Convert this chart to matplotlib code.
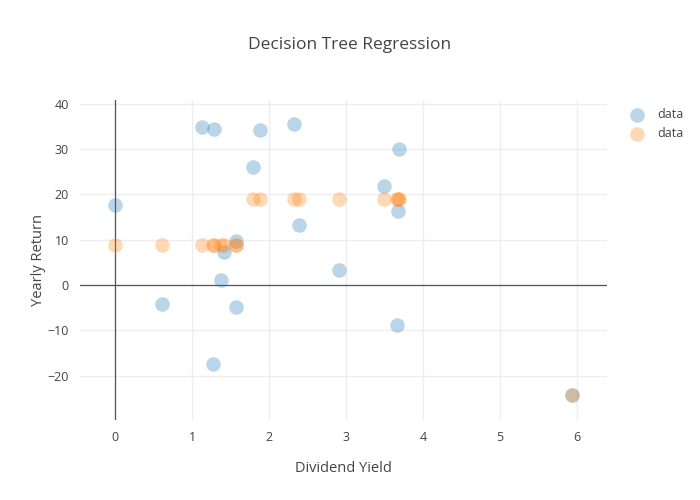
import numpy as np
import matplotlib.pyplot as plt

plt.rcParams['font.family'] = ['Open Sans', 'DejaVu Sans']

# dividend yield and yearly return
dividend_yield = [0.0, 0.606, 1.126, 1.28, 1.277, 1.38, 1.42, 1.567, 1.575,
                  1.79, 1.88, 2.32, 2.39, 2.91, 3.49, 3.66, 3.67, 3.69, 5.93]
yearly_return = [17.6, -4.2, 34.9, 34.3, -17.5, 1.0, 7.35, -4.9, 9.8,
                 26.0, 34.1, 35.5, 13.2, 3.3, 21.9, -8.8, 16.3, 29.9, -24.3]
# tree predictions at the same x values
predicted = [8.72, 8.72, 8.72, 8.72, 8.72, 8.72, 8.72, 8.72, 8.72,
             19.04, 19.04, 19.04, 19.04, 19.04, 19.04, 19.04, 19.04, 19.04, -24.3]

xticks = [0, 1, 2, 3, 4, 5, 6]
yticks = [-20, -10, 0, 10, 20, 30, 40]

fig = plt.figure(figsize=(7, 5), dpi=100)
ax = fig.add_axes([80 / 700, 80 / 500, 527 / 700, 320 / 500])
ax.set_axisbelow(True)

ax.scatter(dividend_yield, yearly_return, s=110, color='#1f77b4', alpha=0.3,
           linewidths=0, label='data', zorder=3)
ax.scatter(dividend_yield, predicted, s=110, color='#ff7f0e', alpha=0.3,
           linewidths=0, label='data', zorder=3)

ax.set_xlim(-0.455, 6.39)
ax.set_ylim(-29.8, 40.8)
ax.set_xticks(xticks)
ax.set_yticks(yticks)
ax.grid(True, color='#eeeeee', linewidth=1)
ax.axhline(0, color='#555555', linewidth=0.9, zorder=2)
ax.axvline(0, color='#555555', linewidth=0.9, zorder=2)
for sp in ax.spines.values():
    sp.set_visible(False)
ax.tick_params(length=0, labelsize=9, labelcolor='#444444', pad=8)

ax.set_xlabel('Dividend Yield', fontsize=10.5, color='#444444', labelpad=12)
ax.set_ylabel('Yearly Return', fontsize=10.5, color='#444444', labelpad=1)
fig.text(350 / 700, 1 - 45 / 500, 'Decision Tree Regression', ha='center',
         va='center', fontsize=12.5, color='#444444')

leg = fig.legend(loc='upper left', bbox_to_anchor=(613 / 700, 1 - 97 / 500),
                 frameon=False, fontsize=9, labelcolor='#444444',
                 handletextpad=0.6, labelspacing=0.45, markerscale=1.0)

fig.savefig('out.png', dpi=100)
